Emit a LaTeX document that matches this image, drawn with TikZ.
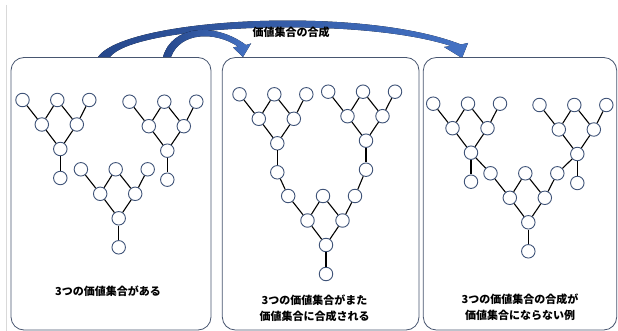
\documentclass[tikz,border=0pt]{standalone}
\usepackage{fontspec}
\newfontfamily\jp{Noto Sans CJK JP}
\definecolor{nodeline}{RGB}{63,83,120}
\definecolor{panelline}{RGB}{72,86,112}
\definecolor{arrowdark}{RGB}{38,72,140}
\definecolor{arrowlight}{RGB}{68,114,196}
\tikzset{
  nd/.style={circle, draw=nodeline, fill=white, line width=0.9pt, minimum size=13.5pt, inner sep=0pt},
  ed/.style={line width=1.1pt, black},
  panel/.style={draw=panelline, line width=0.8pt, rounded corners=13pt, fill=white},
  lbl/.style={font=\jp\bfseries\fontsize{11}{16}\selectfont, align=center, inner sep=0pt},
  blockarrow/.style={left color=arrowdark, right color=arrowlight, draw=none}
}
\newcommand\vtree[3]{%
  \node[nd] (#1r)  at (#2,#3) {};
  \node[nd] (#1ml) at ({#2-18.5},{#3-24.5}) {};
  \node[nd] (#1mr) at ({#2+16.5},{#3-24.5}) {};
  \node[nd] (#1tl) at ({#2-37.8},{#3-49}) {};
  \node[nd] (#1tm) at ({#2-3},{#3-49}) {};
  \node[nd] (#1tr) at ({#2+29},{#3-49}) {};
  \draw[ed] (#1tl) -- (#1ml);
  \draw[ed] (#1tm) -- (#1ml);
  \draw[ed] (#1tm) -- (#1mr);
  \draw[ed] (#1tr) -- (#1mr);
  \draw[ed] (#1ml) -- (#1r);
  \draw[ed] (#1mr) -- (#1r);
}
\newcommand\vstem[3]{%
  \node[nd] (#1b) at (#2,{#3+29}) {};
  \draw[ed] (#1r) -- (#1b);
}
\begin{document}
\begin{tikzpicture}[x=1pt,y=-1pt]
\useasboundingbox (0,0) rectangle (618,331);
\fill[white] (0,0) rectangle (618,331);
\draw[black!15, line width=0.8pt] (6.5,5) -- (6.5,331);

% arrows
\fill[blockarrow] (98,57) .. controls (125,18) and (360,5) .. (461,44.5)
  -- (468,43) -- (462,58) -- (444,47) -- (451,46)
  .. controls (360,16) and (135,24) .. (110,57) -- cycle;
\fill[blockarrow] (163,57) .. controls (172,25) and (215,22) .. (246,45)
  -- (251,43.5) -- (243,57) -- (233,47.5) -- (238,46.5)
  .. controls (215,31) and (180,32) .. (171,57) -- cycle;
\node[lbl] (title) at (291,32) {価値集合の合成};

% panels
\draw[panel] (11,57.5) rectangle (211,330);
\draw[panel] (222.3,57.5) rectangle (419,330);
\draw[panel] (423.3,57.5) rectangle (616.7,330);

% panel 1
\vtree{pa}{60.3}{149}
\vstem{pa}{60.3}{149}
\vtree{pb}{167.3}{150.7}
\vstem{pb}{167.3}{150.7}
\vtree{pc}{118.7}{218.3}
\vstem{pc}{118.7}{218.3}
\node[lbl] (t1) at (108,291) {3つの価値集合がある};

% panel 2
\vtree{qa}{277.3}{143.3}
\vstem{qa}{277.3}{143.3}
\vtree{qb}{366}{140.7}
\vstem{qb}{366}{140.7}
\vtree{qc}{326}{245}
\vstem{qc}{326}{245}
\draw[ed] (qab) -- (qctl);
\draw[ed] (qbb) -- (qctr);
\node[lbl] (t2) at (314.5,308.5) {3つの価値集合がまた\\価値集合に合成される};

% panel 3
\vtree{sa}{471}{152.7}
\vstem{sa}{471}{152.7}
\vtree{sb}{577.3}{154}
\vstem{sb}{577.3}{154}
\vtree{sc}{528.3}{222.3}
\vstem{sc}{528.3}{222.3}
\draw[ed] (sar) -- (sctl);
\draw[ed] (sbr) -- (sctr);
\node[lbl] (t3) at (520,307) {3つの価値集合の合成が\\価値集合にならない例};
\end{tikzpicture}
\end{document}
